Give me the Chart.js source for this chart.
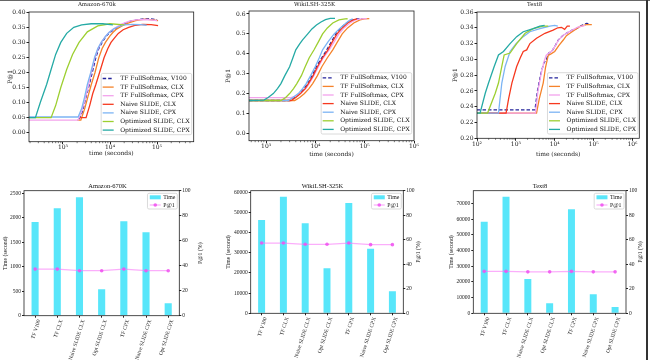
<!DOCTYPE html>
<html><head><meta charset="utf-8">
<script src="https://cdn.jsdelivr.net/npm/chart.js@4.4.1/dist/chart.umd.min.js"></script>
<style>
html,body{margin:0;padding:0;background:#fff;width:650px;height:360px;overflow:hidden;position:relative}
canvas{position:absolute}
.edge{position:absolute;background:#333}
</style></head><body>
<canvas id="c1" width="215" height="165" style="left:0;top:0"></canvas>
<canvas id="c2" width="215" height="165" style="left:215px;top:0"></canvas>
<canvas id="c3" width="220" height="165" style="left:430px;top:0"></canvas>
<canvas id="c4" width="215" height="185" style="left:0;top:175px"></canvas>
<canvas id="c5" width="215" height="185" style="left:215px;top:175px"></canvas>
<canvas id="c6" width="220" height="185" style="left:430px;top:175px"></canvas>
<div class="edge" style="left:0;top:0;width:650px;height:1px;background:#666"></div>
<div class="edge" style="left:646px;top:0;width:2px;height:360px"></div>
<script>
// ================= DATA =================
const lineSeriesLabels = ['TF FullSoftmax, V100','TF FullSoftmax, CLX','TF FullSoftmax, CPX','Naive SLIDE, CLX','Naive SLIDE, CPX','Optimized SLIDE, CLX','Optimized SLIDE, CPX'];

// Amazon-670k : [time (seconds), P@1]
const amzTfV100 = [[2200,0.045],[2600,0.07],[3000,0.11],[3500,0.15],[4200,0.20],[5000,0.25],[5800,0.28],[6800,0.30],[8200,0.32],[10000,0.333],[13000,0.345],[16000,0.355],[22000,0.365],[30000,0.372],[40000,0.376],[55000,0.379],[75000,0.378],[100000,0.375]];
const amzTfClx = [[2000,0.042],[2400,0.042],[2900,0.08],[3400,0.12],[4000,0.16],[4800,0.20],[5800,0.25],[6800,0.28],[8000,0.30],[9800,0.32],[11500,0.333],[14000,0.345],[18000,0.355],[25000,0.365],[35000,0.372],[55000,0.377],[80000,0.375],[105000,0.372]];
const amzTfCpx = [[190,0.042],[2100,0.042],[2500,0.07],[3000,0.115],[3400,0.15],[4000,0.20],[4800,0.25],[5600,0.28],[6500,0.30],[8000,0.32],[9500,0.333],[12000,0.345],[17000,0.36],[25000,0.37],[35000,0.375],[60000,0.376],[100000,0.372]];
const amzNaiveClx = [[2300,0.05],[3100,0.05],[3700,0.09],[4300,0.13],[5000,0.16],[6000,0.20],[7500,0.25],[9000,0.28],[10500,0.30],[12500,0.315],[15000,0.33],[19000,0.342],[25000,0.35],[35000,0.357],[50000,0.36],[75000,0.359],[105000,0.356]];
const amzNaiveCpx = [[190,0.052],[2100,0.052],[2500,0.08],[2900,0.12],[3300,0.16],[3900,0.20],[4700,0.25],[5500,0.28],[6500,0.30],[8000,0.32],[9500,0.333],[12000,0.345],[15000,0.352],[20000,0.358],[30000,0.36],[45000,0.359],[60000,0.357]];
const amzOptClx = [[190,0.05],[560,0.05],[700,0.09],[900,0.15],[1200,0.21],[1600,0.26],[2200,0.30],[3300,0.335],[5500,0.355],[10000,0.362],[20000,0.358]];
const amzOptCpx = [[190,0.05],[260,0.05],[330,0.10],[450,0.16],[560,0.21],[700,0.26],[900,0.30],[1200,0.33],[1700,0.35],[2500,0.358],[4000,0.362],[7000,0.362],[11500,0.358]];

// WikiLSH-325K
const wikiTfV100 = [[450,0.165],[3000,0.165],[3800,0.18],[4800,0.20],[5900,0.225],[7000,0.25],[8600,0.29],[10500,0.335],[13500,0.38],[17000,0.42],[21000,0.46],[26000,0.50],[33000,0.53],[43000,0.555],[55000,0.57],[70000,0.575],[90000,0.577]];
const wikiTfClx = [[450,0.165],[3800,0.165],[4800,0.18],[6000,0.20],[7400,0.225],[8800,0.25],[11000,0.29],[13500,0.335],[17500,0.38],[22500,0.42],[28000,0.46],[35000,0.50],[45000,0.53],[60000,0.555],[80000,0.57],[100000,0.575],[124000,0.577]];
const wikiTfCpx = [[450,0.18],[3200,0.18],[4200,0.19],[5200,0.205],[6400,0.225],[7500,0.25],[9300,0.29],[11500,0.335],[14500,0.38],[19000,0.42],[24000,0.46],[30000,0.50],[38000,0.53],[50000,0.555],[65000,0.57],[85000,0.575],[110000,0.577]];
const wikiNaiveClx = [[450,0.165],[3200,0.165],[4000,0.18],[5000,0.20],[6200,0.225],[7200,0.25],[9000,0.29],[11000,0.335],[14000,0.38],[18000,0.42],[22000,0.46],[27500,0.50],[35000,0.53],[45000,0.555],[58000,0.57],[70000,0.576]];
const wikiNaiveCpx = [[450,0.165],[2800,0.165],[3500,0.18],[4500,0.20],[5500,0.225],[6500,0.25],[8000,0.29],[9900,0.335],[12000,0.38],[14000,0.42],[18000,0.46],[24000,0.50],[32000,0.53],[42000,0.555],[50000,0.57],[57000,0.575]];
const wikiOptClx = [[450,0.165],[2000,0.165],[2500,0.18],[3000,0.20],[3600,0.225],[4200,0.25],[5200,0.29],[6200,0.335],[7500,0.38],[9400,0.42],[11500,0.46],[14000,0.50],[17500,0.53],[22500,0.555],[30000,0.57],[40000,0.575],[45000,0.576]];
const wikiOptCpx = [[450,0.165],[900,0.167],[1100,0.18],[1400,0.20],[1700,0.225],[2000,0.25],[2400,0.29],[3000,0.335],[3500,0.38],[4000,0.42],[4800,0.45],[5500,0.47],[7000,0.50],[8500,0.525],[10500,0.545],[13000,0.56],[16000,0.572],[20000,0.578],[25000,0.578]];

// Text8
const t8TfV100 = [[100,0.236],[3100,0.236],[3600,0.26],[4300,0.28],[5200,0.295],[6150,0.30],[7000,0.308],[8300,0.31],[10000,0.316],[12300,0.3245],[16000,0.33],[20000,0.333],[28000,0.337],[36000,0.339],[50000,0.343],[65000,0.3456],[80000,0.345]];
const t8TfClx = [[100,0.232],[3400,0.232],[4000,0.25],[5050,0.27],[5800,0.29],[6800,0.305],[8000,0.307],[10000,0.31],[13000,0.318],[16600,0.3245],[20000,0.33],[24600,0.333],[32000,0.337],[44000,0.3414],[65000,0.344],[90000,0.344]];
const t8TfCpx = [[100,0.232],[3200,0.232],[3700,0.26],[4400,0.28],[5300,0.297],[6000,0.305],[7000,0.308],[8300,0.31],[10000,0.316],[12300,0.324],[16000,0.33],[20000,0.333],[28000,0.337],[40000,0.341],[60000,0.343]];
const t8NaiveClx = [[100,0.232],[560,0.232],[650,0.25],[790,0.27],[1050,0.291],[1300,0.302],[1550,0.31],[1900,0.312],[2300,0.32],[3400,0.3267],[5600,0.333],[9100,0.337],[12000,0.340],[14900,0.3406],[18000,0.338],[21000,0.342],[24600,0.342]];
const t8NaiveCpx = [[100,0.232],[357,0.232],[435,0.27],[530,0.291],[710,0.31],[1010,0.32],[1550,0.3288],[2300,0.335],[4150,0.339],[6000,0.341],[7500,0.342],[10000,0.343],[12000,0.342]];
const t8OptClx = [[100,0.232],[187,0.232],[295,0.257],[357,0.27],[435,0.291],[500,0.3056],[710,0.308],[1050,0.32],[1730,0.333],[2800,0.339],[5000,0.342],[6800,0.342]];
const t8OptCpx = [[100,0.232],[120,0.232],[163,0.257],[198,0.27],[277,0.291],[357,0.3056],[480,0.31],[710,0.32],[1050,0.3288],[1550,0.335],[2800,0.339],[4150,0.342],[5500,0.343]];

const amazonXTicks = [1e3,1e4,1e5];
const amazonYTicks = [0,0.05,0.10,0.15,0.20,0.25,0.30,0.35,0.40];
const wikiXTicks = [1e3,1e4,1e5,1e6];
const wikiYTicks = [0,0.1,0.2,0.3,0.4,0.5,0.6];
const text8XTicks = [1e2,1e3,1e4,1e5,1e6];
const text8YTicks = [0.20,0.22,0.24,0.26,0.28,0.30,0.32,0.34,0.36];

// Bar charts
const barCategories = ['TF V100','TF CLX','Naive SLIDE CLX','Opt SLIDE CLX','TF CPX','Naive SLIDE CPX','Opt SLIDE CPX'];
const amazonTime = [1914,2193,2418,538,1928,1703,252];
const amazonP1 = [37.3,37.3,36.0,36.0,37.3,36.0,36.0];
const wikiTime = [46280,57850,44630,22310,54710,32070,10900];
const wikiP1 = [57.3,57.3,56.3,56.3,57.3,56.0,56.0];
const text8Time = [58340,74250,21850,6360,66190,12090,4030];
const text8P1 = [34.2,34.2,33.8,33.8,34.2,33.8,33.8];
const amazonTimeTicks = [0,500,1000,1500,2000,2500];
const wikiTimeTicks = [0,10000,20000,30000,40000,50000,60000];
const text8TimeTicks = [0,10000,20000,30000,40000,50000,60000,70000];
const p1Ticks = [0,20,40,60,80,100];

// ================= STYLE =================
const seriesColors = ['#23239b','#f5832b','#f3a3ec','#f6391f','#7cb4f4','#9dcf31','#25aaa5'];
const seriesDash = [[3.5,2],[],[],[],[],[],[]];
const TF = 'DejaVu Serif';
const BF = 'Liberation Serif';
const SUP = {'0':'⁰','1':'¹','2':'²','3':'³','4':'⁴','5':'⁵','6':'⁶','7':'⁷','8':'⁸','9':'⁹'};

function roundRect(ctx,x,y,w,h,r){
  ctx.moveTo(x+r,y); ctx.lineTo(x+w-r,y); ctx.quadraticCurveTo(x+w,y,x+w,y+r);
  ctx.lineTo(x+w,y+h-r); ctx.quadraticCurveTo(x+w,y+h,x+w-r,y+h);
  ctx.lineTo(x+r,y+h); ctx.quadraticCurveTo(x,y+h,x,y+h-r);
  ctx.lineTo(x,y+r); ctx.quadraticCurveTo(x,y,x+r,y); ctx.closePath();
}

const framePlugin = {
  id:'frame',
  afterDatasetsDraw(chart){
    const {ctx, chartArea:a} = chart;
    ctx.save();
    ctx.strokeStyle='#222'; ctx.lineWidth=0.8;
    ctx.strokeRect(a.left, a.top, a.right-a.left, a.bottom-a.top);
    const xs = chart.scales.x;
    if (xs.type==='logarithmic'){
      const lo=Math.floor(Math.log10(xs.min)), hi=Math.ceil(Math.log10(xs.max));
      ctx.beginPath();
      for (let n=lo;n<=hi;n++) for (let k=2;k<=9;k++){
        const v=k*Math.pow(10,n); if (v<=xs.min||v>=xs.max) continue;
        const px=xs.getPixelForValue(v); ctx.moveTo(px,a.bottom); ctx.lineTo(px,a.bottom+1.5);
      }
      ctx.lineWidth=0.6; ctx.stroke();
    }
    ctx.restore();
  }
};

const boxLegend = {
  id:'boxLegend',
  afterDatasetsDraw(chart,args,o){
    if (!o || !o.show) return;
    const {ctx, chartArea:a} = chart;
    const ds = chart.data.datasets;
    ctx.save();
    ctx.font = o.size+'px "'+o.family+'"';
    let tw=0; ds.forEach(d=>{tw=Math.max(tw,ctx.measureText(d.label).width);});
    const w=o.padL+o.sample+o.gap+tw+o.padR;
    const h=o.padT+ds.length*o.pitch+o.padB;
    const x0=a.right-o.mr-w;
    const y0=o.corner==='tr' ? a.top+o.mt : a.bottom-o.mb-h;
    ctx.beginPath(); roundRect(ctx,x0,y0,w,h,1.5);
    ctx.fillStyle='rgba(255,255,255,0.85)'; ctx.fill();
    ctx.strokeStyle='#d0d0d0'; ctx.lineWidth=0.8; ctx.stroke();
    ds.forEach((d,i)=>{
      const cy=y0+o.padT+o.pitch*(i+0.5);
      const sx=x0+o.padL;
      const kind=d.type||chart.config.type;
      if (kind==='bar'){
        ctx.fillStyle=d.backgroundColor; ctx.fillRect(sx,cy-o.boxH/2,o.sample,o.boxH);
      } else {
        ctx.strokeStyle=d.borderColor; ctx.lineWidth=o.lw; ctx.setLineDash(d.borderDash||[]);
        ctx.beginPath(); ctx.moveTo(sx,cy); ctx.lineTo(sx+o.sample,cy); ctx.stroke(); ctx.setLineDash([]);
        if (d.pointRadius>0){ ctx.fillStyle=d.pointBackgroundColor; ctx.beginPath(); ctx.arc(sx+o.sample/2,cy,d.pointRadius,0,Math.PI*2); ctx.fill(); }
      }
      ctx.fillStyle='#111'; ctx.textBaseline='middle'; ctx.textAlign='left';
      ctx.fillText(d.label, sx+o.sample+o.gap, cy);
    });
    ctx.restore();
  }
};

const rightTitle = {
  id:'rightTitle',
  afterDraw(chart,args,o){
    if (!o || !o.text) return;
    const {ctx, chartArea:a} = chart;
    ctx.save();
    ctx.font=o.size+'px "'+o.family+'"'; ctx.fillStyle='#222';
    ctx.translate(o.x,(a.top+a.bottom)/2); ctx.rotate(-Math.PI/2);
    ctx.textAlign='center'; ctx.textBaseline='middle';
    ctx.fillText(o.text,0,0);
    ctx.restore();
  }
};

function pts(arr){ return arr.map(p=>({x:p[0],y:p[1]})); }

function makeLineChart(id,c){
  const cv=document.getElementById(id); const W=cv.width, H=cv.height; const a=c.area;
  const tickFont={family:TF,size:6};
  new Chart(cv,{
    type:'line',
    data:{datasets:c.series.map((s,i)=>({
      label:lineSeriesLabels[i], data:pts(s), borderColor:seriesColors[i], borderDash:seriesDash[i],
      borderWidth:1.3, pointRadius:0, fill:false, tension:0, order:c.series.length-i
    }))},
    options:{
      responsive:false, animation:false, events:[],
      layout:{padding:{left:0,top:0,bottom:0,right:W-a.right}},
      plugins:{
        legend:{display:false}, tooltip:{enabled:false},
        title:{display:true,text:c.title,color:'#222',font:{family:TF,size:5.5,weight:'normal',lineHeight:1.2},padding:{top:1.7,bottom:a.top-6.6-1.7}},
        boxLegend:{show:true,family:TF,size:6,pitch:8.6,sample:11,gap:6.5,padL:1.5,padR:2,padT:0.8,padB:0.3,mr:c.mr,mb:c.mb,corner:'br',lw:1.3,boxH:4}
      },
      scales:{
        x:{type:'logarithmic',min:c.xmin,max:c.xmax,
          afterBuildTicks:s=>{s.ticks=c.xticks.map(v=>({value:v}));},
          afterFit:s=>{s.height=H-a.bottom;},
          ticks:{font:tickFont,color:'#222',padding:0,maxRotation:0,autoSkip:false,
            callback:v=>'10'+String(Math.round(Math.log10(v))).split('').map(ch=>SUP[ch]).join('')},
          grid:{display:true,drawOnChartArea:false,drawTicks:true,tickLength:2.5,color:'#222'},
          border:{display:false},
          title:{display:true,text:'time (seconds)',color:'#222',font:{family:TF,size:6,lineHeight:1.2},padding:{top:0,bottom:c.xtY}}
        },
        y:{min:c.ymin,max:c.ymax,
          afterBuildTicks:s=>{s.ticks=c.yticks.map(v=>({value:v}));},
          afterFit:s=>{s.width=a.left;},
          ticks:{font:tickFont,color:'#222',padding:1,callback:v=>Number(v).toFixed(c.ydec)},
          grid:{display:true,drawOnChartArea:false,drawTicks:true,tickLength:2.5,color:'#222'},
          border:{display:false},
          title:{display:true,text:'P@1',color:'#222',font:{family:TF,size:6,lineHeight:1.2},padding:{top:c.ytX,bottom:0}}
        }
      }
    },
    plugins:[framePlugin,boxLegend]
  });
}

function makeBarChart(id,c){
  const cv=document.getElementById(id); const W=cv.width, H=cv.height; const a=c.area;
  const f={family:BF,size:5.5};
  new Chart(cv,{
    type:'bar',
    data:{labels:barCategories,datasets:[
      {type:'bar',label:'Time',data:c.time,yAxisID:'y',backgroundColor:'#58e6fa',barPercentage:0.32,categoryPercentage:1,order:1},
      {type:'line',label:'P@1',data:c.p1,yAxisID:'y1',borderColor:'rgba(248,120,248,0.6)',borderWidth:1.3,pointRadius:1.8,pointBackgroundColor:'rgba(240,80,240,0.85)',pointBorderWidth:0,fill:false,order:0}
    ]},
    options:{
      responsive:false, animation:false, events:[],
      layout:{padding:0},
      plugins:{
        legend:{display:false}, tooltip:{enabled:false},
        title:{display:true,text:c.title,color:'#111',font:{family:BF,size:6.5,weight:'normal',lineHeight:1.2},padding:{top:c.titleTop,bottom:a.top-7.8-c.titleTop}},
        boxLegend:{show:true,family:BF,size:5.8,pitch:7.7,sample:11,gap:2.5,padL:2.3,padR:2,padT:0.15,padB:0.15,mr:2,mt:2.6,corner:'tr',lw:1.2,boxH:4},
        rightTitle:{text:'P@1 (%)',x:c.rtX,family:BF,size:5.8}
      },
      scales:{
        x:{offset:true,
          afterFit:s=>{s.height=H-a.bottom;},
          ticks:{font:f,color:'#222',padding:1,minRotation:72,maxRotation:72,autoSkip:false,labelOffset:c.lblOff},
          grid:{offset:false,display:true,drawOnChartArea:false,drawTicks:true,tickLength:2,color:'#222'},
          border:{display:false}
        },
        y:{position:'left',min:0,max:c.ymax,
          afterBuildTicks:s=>{s.ticks=c.yticks.map(v=>({value:v}));},
          afterFit:s=>{s.width=a.left;},
          ticks:{font:f,color:'#222',padding:1,callback:v=>String(v)},
          grid:{display:true,drawOnChartArea:false,drawTicks:true,tickLength:2,color:'#222'},
          border:{display:false},
          title:{display:true,text:'Time (second)',color:'#222',font:{family:BF,size:5.8,lineHeight:1.2},padding:{top:c.ltX,bottom:0}}
        },
        y1:{position:'right',min:0,max:100,
          afterBuildTicks:s=>{s.ticks=p1Ticks.map(v=>({value:v}));},
          afterFit:s=>{s.width=W-a.right;},
          ticks:{font:f,color:'#222',padding:1,callback:v=>String(v)},
          grid:{display:true,drawOnChartArea:false,drawTicks:true,tickLength:2,color:'#222'},
          border:{display:false}
        }
      }
    },
    plugins:[framePlugin,boxLegend,rightTitle]
  });
}

makeLineChart('c1',{title:'Amazon-670k',series:[amzTfV100,amzTfClx,amzTfCpx,amzNaiveClx,amzNaiveCpx,amzOptClx,amzOptCpx],
  xmin:190,xmax:600000,xticks:amazonXTicks,ymin:-0.03,ymax:0.401,yticks:amazonYTicks,ydec:2,
  area:{left:29,right:193.7,top:12,bottom:141.7},mr:2,mb:7,xtY:7.6,ytX:6.4});
makeLineChart('c2',{title:'WikiLSH-325K',series:[wikiTfV100,wikiTfClx,wikiTfCpx,wikiNaiveClx,wikiNaiveCpx,wikiOptClx,wikiOptCpx],
  xmin:450,xmax:1e6,xticks:wikiXTicks,ymin:-0.037,ymax:0.615,yticks:wikiYTicks,ydec:1,
  area:{left:34,right:199,top:11,bottom:140.7},mr:2.3,mb:6.7,xtY:7,ytX:9.7});
makeLineChart('c3',{title:'Text8',series:[t8TfV100,t8TfClx,t8TfCpx,t8NaiveClx,t8NaiveCpx,t8OptClx,t8OptCpx],
  xmin:100,xmax:1.5e6,xticks:text8XTicks,ymin:0.20,ymax:0.36,yticks:text8YTicks,ydec:2,
  area:{left:47,right:209.3,top:12,bottom:138.3},mr:1.3,mb:4.3,xtY:7.2,ytX:21.4});

makeBarChart('c4',{title:'Amazon-670K',time:amazonTime,p1:amazonP1,ymax:2554,yticks:amazonTimeTicks,
  area:{left:24,right:179.3,top:15.7,bottom:140.7},titleTop:7.8,ltX:1.5,rtX:200,lblOff:4});
makeBarChart('c5',{title:'WikiLSH-325K',time:wikiTime,p1:wikiP1,ymax:60830,yticks:wikiTimeTicks,
  area:{left:35.7,right:188.3,top:15.7,bottom:138.3},titleTop:7.1,ltX:9.8,rtX:203.3,lblOff:4});
makeBarChart('c6',{title:'Text8',time:text8Time,p1:text8P1,ymax:78060,yticks:text8TimeTicks,
  area:{left:43.3,right:196,top:15.7,bottom:138.3},titleTop:7.1,ltX:18.2,rtX:210.5,lblOff:4});
</script>
</body></html>
